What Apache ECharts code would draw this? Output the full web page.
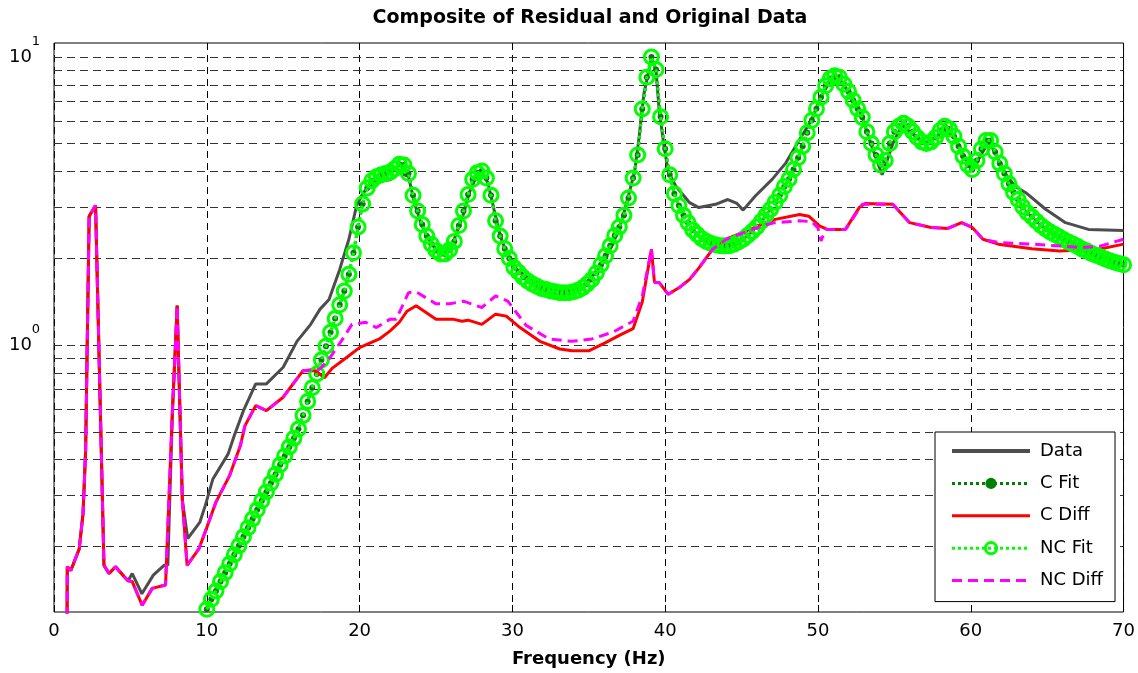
<!DOCTYPE html>
<html>
<head>
<meta charset="utf-8">
<title>Composite of Residual and Original Data</title>
<script src="https://cdn.jsdelivr.net/npm/echarts@6/dist/echarts.min.js"></script>
<style>
  html, body { margin: 0; padding: 0; background: #fff; }
  #main { width: 1138px; height: 673px; }
</style>
</head>
<body>
<div id="main"></div>
<script>
// measured spectrum, [Hz, magnitude]
const dataCurve = [
  [0.85, 0.1], [0.87, 0.170], [1.1, 0.165], [1.65, 0.196], [1.9, 0.26], [2.07, 0.43],
  [2.3, 2.8], [2.72, 3.05], [3.27, 0.172], [3.6, 0.161], [4.03, 0.170], [4.6, 0.157],
  [4.85, 0.152], [5.12, 0.161], [5.75, 0.137], [6.5, 0.159], [7.2, 0.172], [7.45, 0.172],
  [7.75, 0.59], [7.95, 1.0], [8.06, 1.37], [8.15, 0.9], [8.4, 0.29], [8.75, 0.213],
  [9.55, 0.243], [9.9, 0.277], [10.4, 0.343], [11.4, 0.419], [11.8, 0.485], [12.4, 0.592],
  [13.2, 0.733], [13.9, 0.733], [15.0, 0.837], [15.9, 1.03], [16.8, 1.18], [17.4, 1.33],
  [18.0, 1.44], [18.7, 1.83], [19.3, 2.33], [19.8, 3.04], [20.2, 3.35], [20.6, 3.55],
  [21.2, 3.7], [22.0, 3.75], [22.6, 3.95], [23.2, 3.85], [23.6, 3.1], [24.0, 2.66],
  [24.4, 2.39], [24.8, 2.21], [25.4, 2.07], [26.0, 2.18], [26.4, 2.5], [26.8, 2.85],
  [27.2, 3.4], [27.6, 3.8], [28.0, 3.95], [28.4, 3.66], [28.8, 2.95], [29.2, 2.4],
  [29.6, 2.1], [30.2, 1.85], [31.3, 1.67], [32.4, 1.58], [33.5, 1.54], [34.6, 1.6],
  [35.7, 1.85], [36.6, 2.25], [37.2, 2.75], [37.6, 3.3], [38.0, 4.0], [38.3, 5.3],
  [38.6, 7.4], [39.1, 9.9], [39.4, 9.0], [39.6, 6.6], [39.9, 5.0], [40.2, 4.0],
  [40.7, 3.56], [41.6, 3.12], [42.2, 3.0], [43.3, 3.08], [44.1, 3.2], [44.7, 3.1],
  [45.1, 2.94], [45.9, 3.29], [47.0, 3.76], [47.9, 4.29], [48.8, 5.17], [49.6, 6.07],
  [50.2, 7.3], [50.9, 8.4], [51.4, 8.4], [52.2, 7.3], [52.9, 6.2], [53.4, 5.1],
  [54.2, 3.9], [54.9, 5.0], [55.5, 5.8], [56.2, 5.4], [57.0, 5.0], [57.8, 5.3],
  [58.3, 5.6], [59.0, 5.2], [59.6, 4.5], [60.1, 4.0], [60.6, 4.5], [61.2, 5.1],
  [61.8, 4.4], [62.3, 3.9], [62.9, 3.56], [63.6, 3.38], [64.9, 2.96], [66.2, 2.66],
  [67.7, 2.52], [70.0, 2.5]
];

// residual after the C fit
const cDiffCurve = [
  [0.85, 0.1], [0.87, 0.170], [1.1, 0.165], [1.65, 0.196], [1.9, 0.26], [2.07, 0.43],
  [2.3, 2.8], [2.72, 3.05], [3.27, 0.172], [3.6, 0.161], [4.03, 0.170], [4.6, 0.157],
  [4.85, 0.152], [5.12, 0.151], [5.77, 0.125], [6.43, 0.143], [7.3, 0.147], [7.4, 0.147],
  [7.75, 0.59], [7.95, 1.0], [8.06, 1.37], [8.15, 0.9], [8.4, 0.29], [8.71, 0.172],
  [9.48, 0.196], [9.98, 0.231], [10.6, 0.285], [11.5, 0.353], [12.2, 0.448], [12.5, 0.525],
  [13.2, 0.616], [13.9, 0.592], [15.0, 0.659], [15.4, 0.704], [16.3, 0.815], [17.1, 0.815],
  [17.7, 0.77], [18.2, 0.83], [19.3, 0.918], [20.0, 0.98], [21.3, 1.05], [22.0, 1.12],
  [22.6, 1.2], [23.1, 1.31], [23.7, 1.37], [25.0, 1.23], [26.1, 1.23], [26.7, 1.21],
  [27.1, 1.22], [28.0, 1.18], [28.9, 1.28], [29.6, 1.26], [30.5, 1.15], [31.8, 1.03],
  [33.1, 0.969], [33.9, 0.955], [35.0, 0.955], [36.1, 1.02], [37.0, 1.08], [37.9, 1.14],
  [38.5, 1.41], [39.1, 2.15], [39.3, 1.65], [39.6, 1.65], [40.2, 1.50], [40.9, 1.58],
  [41.6, 1.69], [42.2, 1.85], [43.1, 2.15], [44.0, 2.33], [45.3, 2.49], [46.4, 2.63],
  [47.2, 2.73], [48.8, 2.84], [49.4, 2.80], [50.1, 2.59], [50.6, 2.52], [51.8, 2.52],
  [52.7, 3.0], [53.1, 3.1], [54.9, 3.08], [56.0, 2.66], [57.4, 2.56], [58.5, 2.54],
  [59.4, 2.66], [60.1, 2.56], [60.8, 2.33], [61.8, 2.24], [64.0, 2.16], [65.8, 2.12],
  [68.4, 2.15], [70.0, 2.24]
];

// residual after the NC fit
const ncDiffCurve = [
  [0.85, 0.1], [0.87, 0.170], [1.1, 0.165], [1.65, 0.196], [1.9, 0.26], [2.07, 0.43],
  [2.3, 2.8], [2.72, 3.05], [3.27, 0.172], [3.6, 0.161], [4.03, 0.170], [4.6, 0.157],
  [4.85, 0.152], [5.12, 0.151], [5.77, 0.125], [6.43, 0.143], [7.3, 0.147], [7.4, 0.147],
  [7.75, 0.59], [7.95, 1.0], [8.06, 1.37], [8.15, 0.9], [8.4, 0.29], [8.71, 0.172],
  [9.48, 0.196], [9.98, 0.231], [10.6, 0.285], [11.5, 0.353], [12.2, 0.448], [12.5, 0.525],
  [13.2, 0.616], [13.9, 0.592], [15.0, 0.659], [15.4, 0.704], [16.3, 0.815], [17.4, 0.826],
  [18.0, 0.894], [18.9, 1.05], [19.5, 1.18], [20.4, 1.2], [21.1, 1.15], [22.0, 1.23],
  [22.4, 1.23], [23.2, 1.52], [23.7, 1.53], [25.0, 1.39], [25.9, 1.39], [26.8, 1.42],
  [28.0, 1.35], [28.9, 1.48], [29.7, 1.42], [30.9, 1.17], [32.4, 1.05], [33.9, 1.03],
  [35.2, 1.05], [36.6, 1.11], [37.9, 1.21], [38.5, 1.48], [39.1, 2.15], [39.3, 1.65],
  [39.6, 1.65], [40.2, 1.50], [40.9, 1.58], [41.6, 1.69], [42.2, 1.85], [43.1, 2.15],
  [44.0, 2.33], [45.3, 2.47], [46.4, 2.6], [47.2, 2.66], [48.8, 2.70], [49.6, 2.68],
  [50.0, 2.55], [50.2, 2.30], [50.5, 2.52], [51.8, 2.52], [52.9, 3.08], [54.9, 3.08],
  [56.0, 2.66], [57.4, 2.56], [58.5, 2.54], [59.4, 2.66], [60.1, 2.56], [60.8, 2.33],
  [61.8, 2.27], [64.0, 2.24], [67.3, 2.18], [68.4, 2.2], [70.0, 2.33]
];

// fitted model (C and NC fits coincide), one sample every 0.3 Hz from 10 Hz
const fitStartHz = 10;
const fitStepHz = 0.3;
const fitVal = [
  0.121, 0.131, 0.140, 0.151, 0.162, 0.174, 0.187, 0.201, 0.216, 0.232,
  0.249, 0.268, 0.288, 0.309, 0.332, 0.356, 0.384, 0.412, 0.443, 0.475,
  0.511, 0.570, 0.637, 0.711, 0.794, 0.887, 0.991, 1.107, 1.236, 1.380,
  1.54, 1.76, 2.09, 2.57, 3.09, 3.51, 3.72, 3.84, 3.89, 3.94,
  3.98, 4.09, 4.24, 4.22, 3.94, 3.31, 2.92, 2.62, 2.39, 2.24,
  2.13, 2.07, 2.07, 2.14, 2.29, 2.60, 2.92, 3.33, 3.76, 3.96,
  4.02, 3.80, 3.31, 2.70, 2.39, 2.16, 2.00, 1.86, 1.79, 1.72,
  1.67, 1.63, 1.60, 1.57, 1.56, 1.54, 1.53, 1.52, 1.52, 1.52,
  1.53, 1.55, 1.58, 1.63, 1.69, 1.78, 1.90, 2.04, 2.21, 2.40,
  2.57, 2.82, 3.24, 3.80, 4.57, 6.6, 8.5, 10.0, 9.04, 6.2,
  4.8, 3.9, 3.35, 3.05, 2.82, 2.66, 2.51, 2.42, 2.34, 2.29,
  2.25, 2.23, 2.21, 2.21, 2.21, 2.24, 2.28, 2.33, 2.40, 2.48,
  2.57, 2.69, 2.82, 2.96, 3.13, 3.31, 3.55, 3.76, 4.07, 4.47,
  4.90, 5.46, 6.03, 6.61, 7.24, 7.94, 8.41, 8.61, 8.51, 8.04,
  7.59, 7.08, 6.61, 6.17, 5.50, 5.01, 4.57, 4.22, 4.37, 5.01,
  5.50, 5.75, 5.89, 5.75, 5.50, 5.25, 5.07, 5.01, 5.07, 5.25,
  5.56, 5.75, 5.62, 5.31, 4.90, 4.52, 4.22, 4.07, 4.37, 4.79,
  5.13, 5.13, 4.68, 4.27, 3.94, 3.63, 3.39, 3.20, 3.02, 2.88,
  2.79, 2.69, 2.60, 2.53, 2.47, 2.42, 2.37, 2.32, 2.28, 2.24,
  2.20, 2.15, 2.12, 2.08, 2.05, 2.02, 1.99, 1.96, 1.94, 1.92,
  1.90
];

// dashed horizontal grid (MATLAB style minor + major lines)
const yGridVals = [0.2, 0.3, 0.4, 0.5, 0.6, 0.7, 0.8, 0.9, 1,
                   2, 3, 4, 5, 6, 7, 8, 9, 10];

const FONT = '"DejaVu Sans", "Liberation Sans", Arial, sans-serif';
const fitCurve = fitVal.map((v, i) => [fitStartHz + i * fitStepHz, v]);

// log axis labels: base "10" on one axis, exponent on a twin axis
function isDecade(v) {
  const e = Math.log10(v);
  return Math.abs(e - Math.round(e)) < 1e-6;
}
const yRange = { type: 'log', logBase: 10, min: 0.1184, max: 11.18 };

const myChart = echarts.init(document.getElementById('main'));
myChart.setOption({
  animation: false,
  backgroundColor: '#fff',
  graphic: [
    {
      type: 'text',
      x: 590,
      y: 18,
      style: {
        text: 'Composite of Residual and Original Data',
        font: 'bold 19px ' + FONT,
        fill: '#000',
        align: 'center',
        verticalAlign: 'middle'
      }
    }
  ],
  grid: {
    left: 54,
    right: 13,
    top: 43,
    bottom: 60,
    show: true,
    borderColor: '#000',
    borderWidth: 1,
    backgroundColor: '#fff'
  },
  legend: {
    orient: 'vertical',
    left: 935,
    top: 432,
    z: 10,
    padding: [10, 12, 12, 15],
    itemWidth: 78,
    itemHeight: 14,
    itemGap: 14.4,
    selectedMode: false,
    backgroundColor: '#fff',
    borderColor: '#000',
    borderWidth: 1,
    borderRadius: 0,
    lineStyle: { width: 3 },
    textStyle: {
      fontFamily: FONT,
      fontSize: 18,
      lineHeight: 18,
      color: '#000',
      padding: [0, 0, 0, 5]
    },
    data: [
      { name: 'Data', itemStyle: { opacity: 0 }, lineStyle: { width: 4 } },
      { name: 'C Fit', lineStyle: { width: 3, type: 'dotted' } },
      { name: 'C Diff', itemStyle: { opacity: 0 }, lineStyle: { width: 3 } },
      { name: 'NC Fit', itemStyle: { borderWidth: 3 }, lineStyle: { width: 3, type: 'dotted' } },
      { name: 'NC Diff', itemStyle: { opacity: 0 }, lineStyle: { width: 3, type: [10, 6] } }
    ]
  },
  xAxis: [
    {
      type: 'value',
      min: 0,
      max: 70,
      interval: 10,
      name: 'Frequency (Hz)',
      nameLocation: 'middle',
      nameGap: 38,
      nameTextStyle: {
        fontFamily: FONT,
        fontSize: 18,
        fontWeight: 'bold',
        color: '#000'
      },
      axisLine: { show: false },
      axisTick: { show: true, inside: true, length: 7, lineStyle: { color: '#000' } },
      axisLabel: { fontFamily: FONT, fontSize: 18, color: '#000', margin: 10 },
      splitLine: { show: true, lineStyle: { color: '#000', width: 1, type: [7, 5] } }
    },
    {
      type: 'value',
      position: 'top',
      min: 0,
      max: 70,
      interval: 10,
      axisLine: { show: false },
      axisTick: { show: true, inside: true, length: 7, lineStyle: { color: '#000' } },
      axisLabel: { show: false },
      splitLine: { show: false }
    }
  ],
  yAxis: [
    Object.assign({}, yRange, {
      position: 'left',
      axisLine: { show: false },
      axisTick: { show: false },
      splitLine: { show: false },
      axisLabel: {
        margin: 22,
        color: '#000',
        fontFamily: FONT,
        fontSize: 18,
        padding: [0, 0, 4, 0],
        formatter: v => (isDecade(v) ? '10' : '')
      }
    }),
    Object.assign({}, yRange, {
      position: 'left',
      axisLine: { show: false },
      axisTick: { show: false },
      splitLine: { show: false },
      axisLabel: {
        margin: 14,
        color: '#000',
        fontFamily: FONT,
        fontSize: 13,
        lineHeight: 13,
        verticalAlign: 'bottom',
        padding: [0, 0, 9, 0],
        formatter: v => (isDecade(v) ? String(Math.round(Math.log10(v))) : '')
      }
    })
  ],
  series: [
    {
      name: 'gridlines',
      type: 'line',
      data: [],
      silent: true,
      z: 1,
      markLine: {
        silent: true,
        z: 1,
        symbol: ['none', 'none'],
        label: { show: false },
        lineStyle: { color: '#333', width: 1, type: [8, 5] },
        data: yGridVals.map(v => ({ yAxis: v }))
      }
    },
    {
      name: 'Data',
      type: 'line',
      data: dataCurve,
      symbol: 'none',
      color: '#4d4d4d',
      lineStyle: { color: '#4d4d4d', width: 3 },
      z: 2
    },
    {
      name: 'C Fit',
      type: 'line',
      data: fitCurve,
      symbol: 'circle',
      symbolSize: 6,
      color: '#008000',
      itemStyle: { color: '#008000' },
      lineStyle: { color: '#008000', width: 3, type: 'dotted' },
      z: 3
    },
    {
      name: 'C Diff',
      type: 'line',
      data: cDiffCurve,
      symbol: 'none',
      color: '#ff0000',
      lineStyle: { color: '#ff0000', width: 3 },
      z: 4
    },
    {
      name: 'NC Fit',
      type: 'line',
      data: fitCurve,
      symbol: 'circle',
      symbolSize: 14,
      color: '#00ff00',
      itemStyle: { color: 'rgba(0,0,0,0)', borderColor: '#00ff00', borderWidth: 3 },
      lineStyle: { color: '#00ff00', width: 3, type: 'dotted' },
      z: 5
    },
    {
      name: 'NC Diff',
      type: 'line',
      data: ncDiffCurve,
      symbol: 'none',
      color: '#ff00ff',
      lineStyle: { color: '#ff00ff', width: 3, type: [10, 6] },
      z: 6
    }
  ]
});
</script>
</body>
</html>
